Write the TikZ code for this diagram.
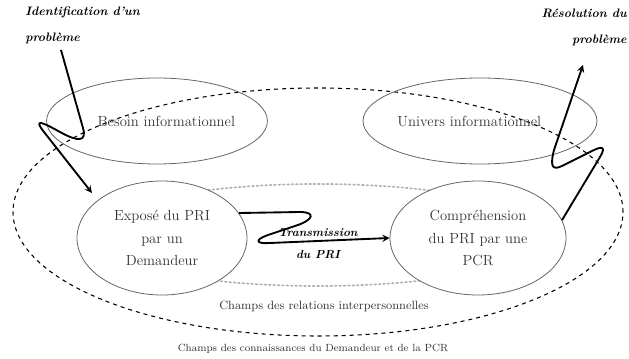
\documentclass[tikz,border=0pt]{standalone}
\usetikzlibrary{shapes.geometric}
\begin{document}
\begin{tikzpicture}[x=0.75pt,y=-0.75pt,
    bulle/.style={ellipse,draw=black!60,line width=0.6pt,inner sep=0pt,align=center,
      text=black!80,font=\fontsize{11}{17}\selectfont},
    champ/.style={ellipse,inner sep=0pt},
    fleche/.style={->,>=stealth,line width=1.4pt,line join=round},
    titre/.style={font=\fontsize{9.2}{19.5}\selectfont\bfseries\itshape,inner sep=0pt},
    legende/.style={text=black!80}]
  \useasboundingbox (0,0) rectangle (629,359);
  % les deux champs
  \node[champ,draw,dashed,line width=0.8pt,minimum width=457.5pt,minimum height=186pt] (connaissances) at (318,212) {};
  \node[champ,draw=black!30,dotted,line width=1.3pt,line cap=round,minimum width=345pt,minimum height=76.5pt] (relations) at (318,235) {};
  \node[legende,font=\fontsize{9}{11}\selectfont] (lrelations) at (324,306) {Champs des relations interpersonnelles};
  \node[legende,font=\fontsize{7.8}{10}\selectfont] (lconnaissances) at (313,349) {Champs des connaissances du Demandeur et de la PCR};
  % les ellipses
  \node[bulle,minimum width=157.5pt,minimum height=64.5pt] (besoin) at (157,121) {\hspace*{14pt}Besoin informationnel};
  \node[bulle,minimum width=175.5pt,minimum height=64.5pt] (univers) at (480,121) {Univers informationnel\hspace*{16pt}};
  \node[bulle,fill=white,minimum width=127.5pt,minimum height=85.5pt] (expose) at (162,238) {Exposé du PRI\\par un\\Demandeur};
  \node[bulle,fill=white,minimum width=132pt,minimum height=85.5pt] (comprehension) at (478,238) {Compréhension\\du PRI par une\\PCR};
  % titres
  \node[titre,anchor=north west,align=left] (identification) at (25,7) {Identification d'un\\problème};
  \node[titre,anchor=north east,align=right] (resolution) at (627,9) {Résolution du\\problème};
  \node[titre,align=center,font=\fontsize{8.8}{16.5}\selectfont\bfseries\itshape] (transmission) at (318,244) {Transmission\\du PRI};
  % fleches
  \coordinate (depart) at (61,50);
  \coordinate (arrivee) at (92,193);
  \coordinate (fin) at (583,65);
  \draw[fleche] (depart) -- (83,128) .. controls (87,142) and (78,142) .. (60,132)
    .. controls (42,122) and (33,118) .. (44,132) -- (arrivee);
  \draw[fleche] (expose.18) -- (300,212) .. controls (316,212) and (314,220) .. (295,226)
    -- (268,235) .. controls (254,240) and (256,244) .. (270,243) -- (comprehension.west);
  \draw[fleche] (comprehension.12) -- (600,157) .. controls (606,147) and (603,145) .. (590,152)
    -- (562,166) .. controls (550,172) and (551,162) .. (554,150) -- (fin);
\end{tikzpicture}
\end{document}
